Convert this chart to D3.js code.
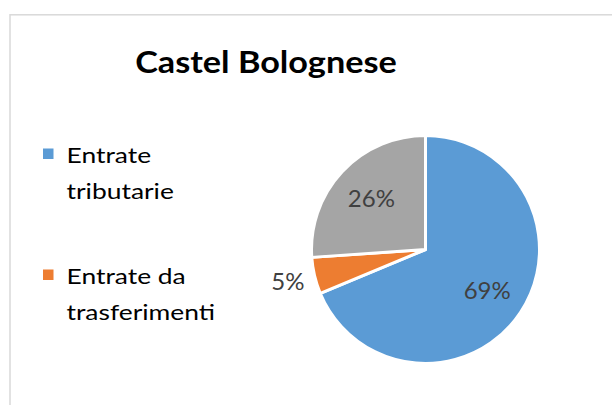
<!DOCTYPE html>
<html>
<head>
<meta charset="utf-8">
<script src="https://cdn.jsdelivr.net/npm/d3@7"></script>
<style>
  body { margin: 0; background: #fff; }
  svg { display: block; font-family: Lato, "Open Sans", sans-serif; }
</style>
</head>
<body>
<svg id="chart" width="612" height="405"></svg>
<script>
// data
const title = "Castel Bolognese";
const categories = ["Entrate tributarie", "Entrate da trasferimenti", "Entrate extratributarie"];
const values = [68.7, 5.2, 26.1];
const colors = ["#5b9bd5", "#ed7d31", "#a5a5a5"];
// legend only shows the lines that fit in the box
const legendLines = [["Entrate", "tributarie"], ["Entrate da", "trasferimenti"]];

const svg = d3.select("#chart");

// the original font runs wider than Lato, stretch text to match
let stretch = (sel, k) => sel.each(function () {
    let w = this.getComputedTextLength();
    d3.select(this).attr("textLength", w * k).attr("lengthAdjust", "spacingAndGlyphs");
});

// chart frame (cut off at right and bottom)
svg.append("rect")
    .attr("x", 10).attr("y", 14.8)
    .attr("width", 700).attr("height", 500)
    .style("fill", "none")
    .style("stroke", "#d9d9d9")
    .style("stroke-width", 1.5);

svg.append("text")
    .attr("x", 266).attr("y", 72.5)
    .attr("text-anchor", "middle")
    .style("font-size", "29.5px")
    .style("font-weight", "bold")
    .style("fill", "#000")
    .text(title)
    .call(stretch, 1.16);

// pie
let cx = 425.5, cy = 249.5, radius = 114;
let total = d3.sum(values);
let pie = d3.pie().sort(null).value(d => d);
let arc = d3.arc().innerRadius(0).outerRadius(radius);
let arcs = pie(values);

let g = svg.append("g").attr("transform", `translate(${cx},${cy})`);

g.selectAll("path.slice")
    .data(arcs)
    .enter().append("path")
    .attr("class", "slice")
    .attr("d", arc)
    .style("fill", (d, i) => colors[i])
    .style("stroke", "#fff")
    .style("stroke-width", 3)
    .style("stroke-linejoin", "round");

// labels: inside for big slices, outside for small ones
g.selectAll("text.label")
    .data(arcs)
    .enter().append("text")
    .attr("class", "label")
    .attr("transform", d => {
        let r = (d.value / total < 0.1) ? radius * 1.24 : radius * 0.65;
        let a = (d.startAngle + d.endAngle) / 2;
        return `translate(${Math.sin(a) * r},${-Math.cos(a) * r})`;
    })
    .attr("text-anchor", "middle")
    .attr("dy", "0.35em")
    .style("font-size", "24px")
    .style("fill", "#404040")
    .text(d => d3.format(".0%")(d.value / total));

// legend
let legend = svg.append("g");
let item = legend.selectAll("g.item")
    .data(legendLines)
    .enter().append("g")
    .attr("class", "item")
    .attr("transform", (d, i) => `translate(0,${i * 121})`);

item.append("rect")
    .attr("x", 43).attr("y", 148.5)
    .attr("width", 10.5).attr("height", 10.5)
    .style("fill", (d, i) => colors[i]);

item.selectAll("text")
    .data(d => d)
    .enter().append("text")
    .attr("x", 66.5)
    .attr("y", (d, j) => 163.3 + j * 35.5)
    .style("font-size", "22px")
    .style("fill", "#000")
    .text(d => d)
    .call(stretch, 1.2);
</script>
</body>
</html>
